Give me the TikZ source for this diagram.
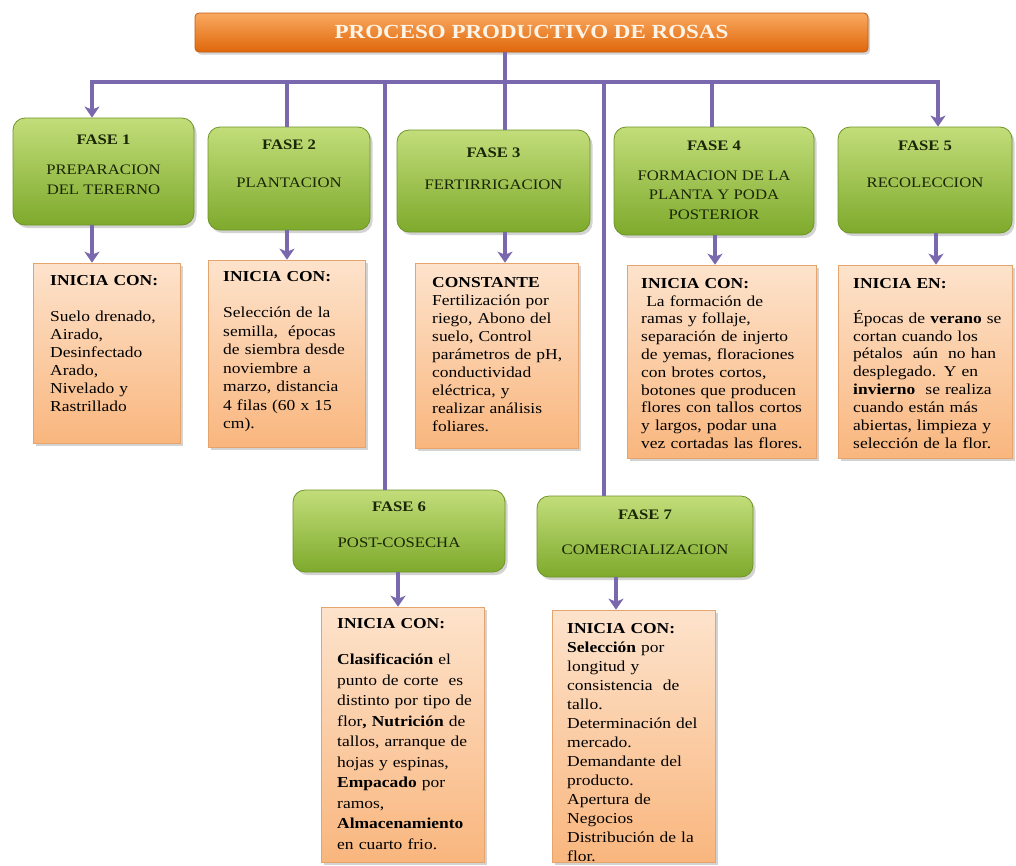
\documentclass[tikz,border=0pt]{standalone}
\usepackage{fontspec}
\setmainfont{Liberation Serif}[FakeStretch=1.15]
\usetikzlibrary{arrows.meta,shadows}
\definecolor{conn}{HTML}{7A68AE}
\definecolor{titletop}{HTML}{F9A961}
\definecolor{titlebot}{HTML}{E0670A}
\definecolor{titleborder}{HTML}{C25A10}
\definecolor{titletext}{HTML}{FFF4E6}
\definecolor{phasetop}{HTML}{C2DD7A}
\definecolor{phasebot}{HTML}{7EAA2C}
\definecolor{phaseborder}{HTML}{6E9426}
\definecolor{phasetext}{HTML}{1A2606}
\definecolor{cardtop}{HTML}{FDE3CC}
\definecolor{cardbot}{HTML}{F9B67E}
\definecolor{cardborder}{HTML}{E5A46C}
\begin{document}
\begin{tikzpicture}[x=1pt,y=-1pt,
  titlebox/.style={draw=titleborder, line width=0.8pt, top color=titletop, bottom color=titlebot,
    rounded corners=4pt, inner sep=0pt, text=titletext,
    font=\bfseries\fontsize{20}{23}\selectfont,
    drop shadow={opacity=0.35, shadow xshift=2pt, shadow yshift=-2.5pt}},
  phasebox/.style={draw=phaseborder, line width=0.8pt, top color=phasetop, bottom color=phasebot,
    rounded corners=12pt, inner sep=0pt,
    drop shadow={opacity=0.35, shadow xshift=2.5pt, shadow yshift=-3pt}},
  phasetxt/.style={align=center, inner sep=0pt, text=phasetext, font=\fontsize{14.5}{19.5}\selectfont},
  card/.style={draw=cardborder, line width=0.6pt, top color=cardtop, bottom color=cardbot,
    inner sep=0pt, drop shadow={opacity=0.35, shadow xshift=2.5pt, shadow yshift=-3pt}},
  cardtxt/.style={anchor=north west, align=left, inner sep=0pt, text width=200pt, text=black},
  link/.style={draw=conn, line width=3.4pt},
  arr/.style={link, -{Stealth[length=11pt,width=15pt,inset=3pt]}}
]
\useasboundingbox (0,0) rectangle (1016,865);

% title
\node[titlebox, minimum width=673pt, minimum height=39pt] (title) at (531.5,32.5) {PROCESO PRODUCTIVO DE ROSAS};

% phase boxes
\node[phasebox, minimum width=181pt, minimum height=107pt] (f1) at (103.5,171.5) {};
\node[phasebox, minimum width=162pt, minimum height=103pt] (f2) at (289,178.5) {};
\node[phasebox, minimum width=193pt, minimum height=102pt] (f3) at (493.5,181) {};
\node[phasebox, minimum width=200pt, minimum height=108pt] (f4) at (714,181) {};
\node[phasebox, minimum width=174pt, minimum height=106pt] (f5) at (925,180) {};
\node[phasebox, minimum width=212pt, minimum height=82pt] (f6) at (399,531) {};
\node[phasebox, minimum width=216pt, minimum height=81pt] (f7) at (645,536.5) {};

\node[phasetxt] (f1a) at (103.5,140) {\textbf{FASE 1}};
\node[phasetxt] (f1b) at (103.5,180) {PREPARACION\\DEL TERERNO};
\node[phasetxt] (f2a) at (289,145) {\textbf{FASE 2}};
\node[phasetxt] (f2b) at (289,183) {PLANTACION};
\node[phasetxt] (f3a) at (493.5,153) {\textbf{FASE 3}};
\node[phasetxt] (f3b) at (493.5,185) {FERTIRRIGACION};
\node[phasetxt] (f4a) at (714,146) {\textbf{FASE 4}};
\node[phasetxt] (f4b) at (714,195) {FORMACION DE LA\\PLANTA Y PODA\\POSTERIOR};
\node[phasetxt] (f5a) at (925,146) {\textbf{FASE 5}};
\node[phasetxt] (f5b) at (925,183) {RECOLECCION};
\node[phasetxt] (f6a) at (399,507) {\textbf{FASE 6}};
\node[phasetxt] (f6b) at (399,543) {POST-COSECHA};
\node[phasetxt] (f7a) at (645,515) {\textbf{FASE 7}};
\node[phasetxt] (f7b) at (645,550) {COMERCIALIZACION};

% cards
\node[card, minimum width=147pt, minimum height=180pt] (t1) at (106.5,353) {};
\node[card, minimum width=157pt, minimum height=187pt] (t2) at (286.5,353.5) {};
\node[card, minimum width=163pt, minimum height=185pt] (t3) at (496.5,355.5) {};
\node[card, minimum width=189pt, minimum height=193pt] (t4) at (721.5,361.5) {};
\node[card, minimum width=174pt, minimum height=193pt] (t5) at (925,361.5) {};
\node[card, minimum width=163pt, minimum height=255pt] (t6) at (402.5,734.5) {};
\node[card, minimum width=163pt, minimum height=252pt] (t7) at (633.5,736) {};

\node[cardtxt, font=\fontsize{15.2}{18}\selectfont] (t1x) at (50,275) {\textbf{INICIA CON:}\\[18pt]
Suelo drenado,\\Airado,\\Desinfectado\\Arado,\\Nivelado y\\Rastrillado};
\node[cardtxt, font=\fontsize{15.2}{18.5}\selectfont] (t2x) at (223,271) {\textbf{INICIA CON:}\\[18pt]
Selección de la\\semilla,\ \ épocas\\de siembra desde\\noviembre a\\marzo, distancia\\4 filas (60 x 15\\cm).};
\node[cardtxt, font=\fontsize{15.2}{18}\selectfont] (t3x) at (432,277) {\textbf{CONSTANTE}\\
Fertilización por\\riego, Abono del\\suelo, Control\\parámetros de pH,\\conductividad\\eléctrica, y\\realizar análisis\\foliares.};
\node[cardtxt, font=\fontsize{15.2}{17.8}\selectfont] (t4x) at (641,278) {\textbf{INICIA CON:}\\
\ La formación de\\ramas y follaje,\\separación de injerto\\de yemas, floraciones\\con brotes cortos,\\botones que producen\\flores con tallos cortos\\y largos, podar una\\vez cortadas las flores.};
\node[cardtxt, font=\fontsize{15.2}{17.9}\selectfont] (t5x) at (853,278) {\textbf{INICIA EN:}\\[17pt]
Épocas de\ \textbf{verano} se\\cortan cuando los\\pétalos\ \ aún\ \ no han\\desplegado. Y en\\\textbf{invierno}\ \ se realiza\\cuando están más\\abiertas, limpieza y\\selección de la flor.};
\node[cardtxt, font=\fontsize{15.2}{20.5}\selectfont] (t6x) at (337,618) {\textbf{INICIA CON:}\\[16pt]
\textbf{Clasificación} el\\punto de corte\ \ es\\distinto por tipo de\\flor\textbf{, Nutrición} de\\tallos, arranque de\\hojas y espinas,\\\textbf{Empacado} por\\ramos,\\\textbf{Almacenamiento}\\en cuarto frio.};
\node[cardtxt, font=\fontsize{15.2}{19}\selectfont] (t7x) at (567,623) {\textbf{INICIA CON:}\\
\textbf{Selección} por\\longitud y\\consistencia\ \ de\\tallo.\\Determinación del\\mercado.\\Demandante del\\producto.\\Apertura de\\Negocios\\Distribución de la\\flor.};

% bus coordinates
\coordinate (b1) at (92,82);
\coordinate (b2) at (287,82);
\coordinate (b6) at (385,82);
\coordinate (b3) at (505,82);
\coordinate (b7) at (604,82);
\coordinate (b4) at (712,82);
\coordinate (b5) at (938,82);
\coordinate (d4) at (715,0);
\coordinate (d5) at (936,0);
\coordinate (d6) at (398,0);
\coordinate (d7) at (616,0);

\draw[link] (title.south -| b3) -- (b3);
\draw[link, line cap=rect] (b1) -- (b5);
\draw[arr] (b1) -- (f1.north -| b1);
\draw[link] (b2) -- (f2.north -| b2);
\draw[link] (b3) -- (f3.north -| b3);
\draw[link] (b4) -- (f4.north -| b4);
\draw[arr] (b5) -- (f5.north -| b5);
\draw[link] (b6) -- (f6.north -| b6);
\draw[link] (b7) -- (f7.north -| b7);

\draw[arr] (f1.south -| b1) -- (t1.north -| b1);
\draw[arr] (f2.south -| b2) -- (t2.north -| b2);
\draw[arr] (f3.south -| b3) -- (t3.north -| b3);
\draw[arr] (f4.south -| d4) -- (t4.north -| d4);
\draw[arr] (f5.south -| d5) -- (t5.north -| d5);
\draw[arr] (f6.south -| d6) -- (t6.north -| d6);
\draw[arr] (f7.south -| d7) -- (t7.north -| d7);
\end{tikzpicture}
\end{document}
